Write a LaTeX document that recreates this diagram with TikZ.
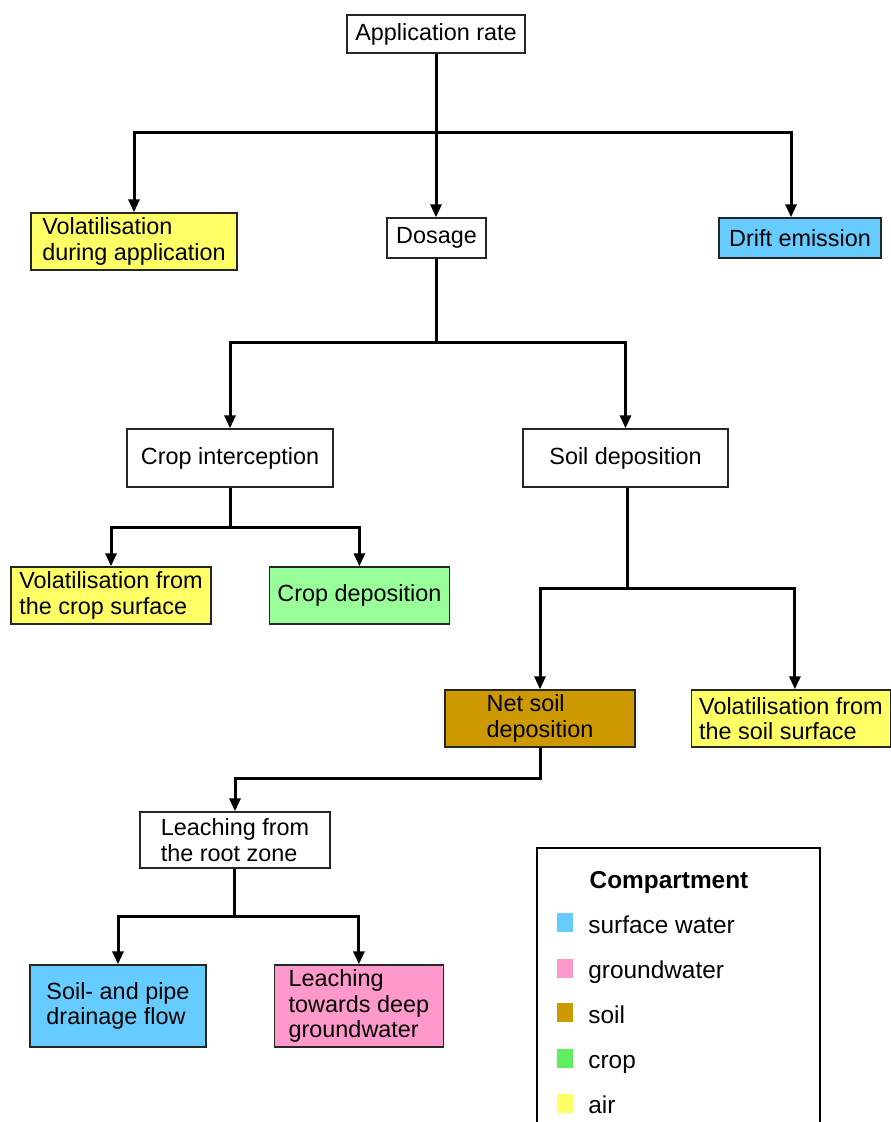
\documentclass[tikz,border=0pt]{standalone}
\usepackage{fontspec}
\setmainfont{Liberation Sans}
\usepackage{tikz}
\usetikzlibrary{arrows.meta,positioning}
\definecolor{airyellow}{HTML}{FFFF66}
\definecolor{waterblue}{HTML}{66CCFF}
\definecolor{croppale}{HTML}{99FF99}
\definecolor{cropgreen}{HTML}{5FEE5F}
\definecolor{soilbrown}{HTML}{CC9900}
\definecolor{gwpink}{HTML}{FF99CC}

\begin{document}
\begin{tikzpicture}[
  x=0.5pt, y=-0.5pt,
  font=\fontsize{11.7}{12.8}\selectfont,
  box/.style={draw=black!85,line width=0.7pt,align=left,inner sep=2pt,minimum height=20pt},
  arr/.style={-{Triangle[length=6.5pt,width=5.5pt]},line width=1.5pt},
  bus/.style={line width=1.5pt},
  air/.style={box,fill=airyellow},
  water/.style={box,fill=waterblue},
  crop/.style={box,fill=croppale},
  soil/.style={box,fill=soilbrown},
  ground/.style={box,fill=gwpink},
  swatch/.style={minimum width=8pt,minimum height=9.5pt,inner sep=0pt},
  legtext/.style={font=\fontsize{12.2}{14}\selectfont,inner sep=0pt,anchor=base west}
]
\useasboundingbox (0,0) rectangle (890,1122);
% emission tree
\node[box,minimum width=89pt,minimum height=19pt] (app) at (436,34) {Application rate};
\node[air,minimum width=103pt,minimum height=28.5pt] (volapp) at (134,241.5) {Volatilisation\\during application};
\node[box,minimum width=49.5pt] (dosage) at (436.5,238) {Dosage};
\node[water,minimum width=81pt] (drift) at (800,238) {Drift emission};
\node[box,minimum width=103pt,minimum height=29pt] (cropint) at (230,458) {Crop interception};
\node[box,minimum width=102.5pt,minimum height=29pt] (soildep) at (625.5,458) {Soil deposition};
\node[air,minimum width=100pt,minimum height=28.5pt] (volcrop) at (111,595.5) {Volatilisation from\\the crop surface};
\node[crop,right=28.5pt of volcrop,minimum width=90pt,minimum height=28.5pt] (cropdep) {Crop deposition};
\node[soil,minimum width=95pt,minimum height=28.5pt] (netsoil) at (540,718.5) {Net soil\\deposition};
\node[air,right=27.5pt of netsoil,minimum width=99.5pt,minimum height=28.5pt] (volsoil) {Volatilisation from\\the soil surface};
\node[box,minimum width=95pt,minimum height=28pt] (rootzone) at (235,840) {Leaching from\\the root zone};
\node[water,minimum width=88pt,minimum height=41pt] (drain) at (118,1006) {Soil- and pipe\\drainage flow};
\node[ground,right=33.5pt of drain,minimum width=84.5pt,minimum height=41pt] (deepgw) {Leaching\\towards deep\\groundwater};
% junctions
\coordinate (j1) at (436,133);
\coordinate (j2) at (436,343);
\coordinate (j3) at (230,527);
\coordinate (j4) at (627,588);
\coordinate (j5) at (540,778);
\coordinate (j6) at (234,916);
\draw[bus] (app) -- (j1);
\draw[arr] (j1) -| (volapp);
\draw[arr] (j1) -- (j1 |- dosage.north);
\draw[arr] (j1) -| ([xshift=-4.5pt]drift.north);
\draw[bus] (dosage.south -| j2) -- (j2);
\draw[arr] (j2) -| (cropint);
\draw[arr] (j2) -| (soildep);
\draw[bus] (cropint) -- (j3);
\draw[arr] (j3) -| (volcrop);
\draw[arr] (j3) -| (cropdep);
\draw[bus] (soildep.south -| j4) -- (j4);
\draw[arr] (j4) -| (netsoil);
\draw[arr] (j4) -| ([xshift=2pt]volsoil.north);
\draw[arr] (netsoil) -- (j5) -| (rootzone);
\draw[bus] (rootzone.south -| j6) -- (j6);
\draw[arr] (j6) -| (drain);
\draw[arr] (j6) -| (deepgw);
% legend
\draw[line width=0.8pt] (537,1130) -- (537,848) -- (820,848) -- (820,1130);
\node[font=\fontsize{12.2}{14}\selectfont\bfseries,inner sep=0pt,anchor=base] (legtitle) at (669,888) {Compartment};
\node[swatch,fill=waterblue] (sw1) at (565,922) {};
\node[legtext] (lt1) at (588,933) {surface water};
\node[swatch,fill=gwpink] (sw2) at (565,968) {};
\node[legtext] (lt2) at (588,978) {groundwater};
\node[swatch,fill=soilbrown] (sw3) at (565,1012) {};
\node[legtext] (lt3) at (588,1023) {soil};
\node[swatch,fill=cropgreen] (sw4) at (565,1058) {};
\node[legtext] (lt4) at (588,1068) {crop};
\node[swatch,fill=airyellow] (sw5) at (565,1103) {};
\node[legtext] (lt5) at (588,1113) {air};
\end{tikzpicture}
\end{document}
